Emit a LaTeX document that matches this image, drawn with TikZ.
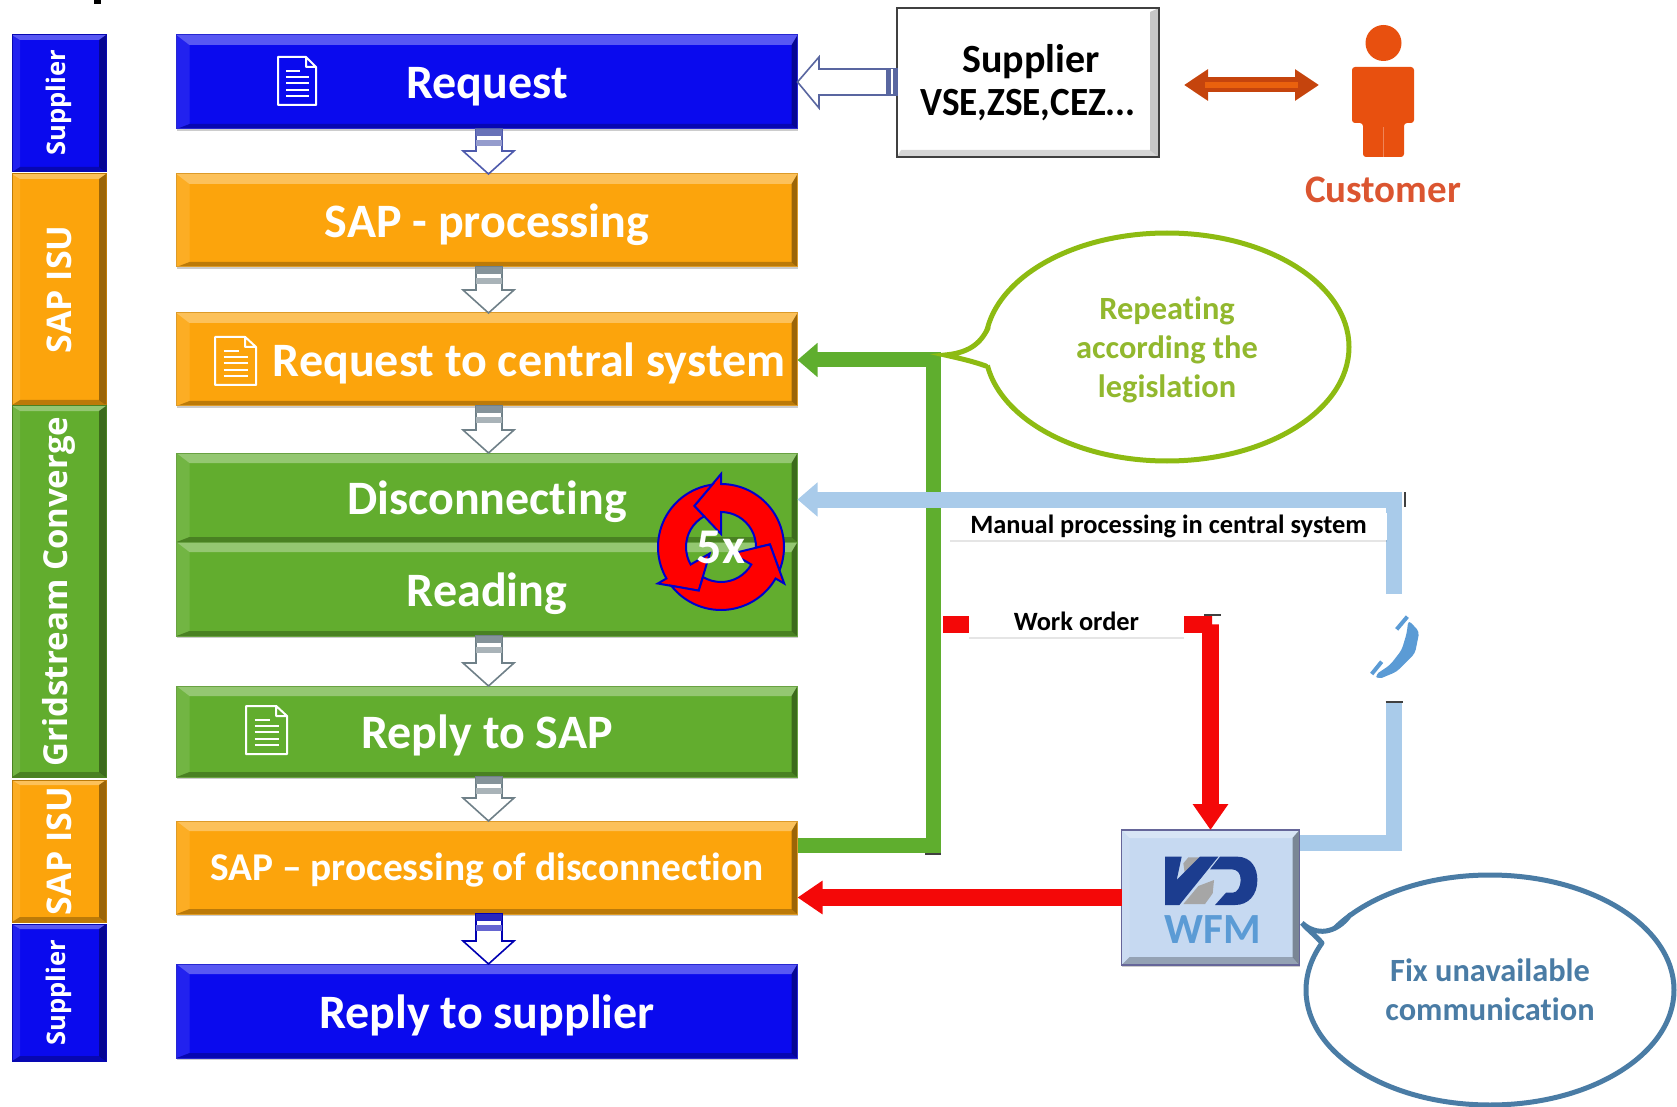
\documentclass[tikz,border=0pt]{standalone}
\usepackage{fontspec}
\usepackage{graphicx}
\setmainfont{Carlito}[Ligatures=NoCommon]
\newfontfamily\osans{Open Sans}
\usetikzlibrary{calc,arrows.meta,shapes.geometric,shadows}
\definecolor{cblue}{HTML}{0A0AEE}
\definecolor{corange}{HTML}{FCA40C}
\definecolor{cgreen}{HTML}{62AD2E}
\definecolor{lgreen}{HTML}{5FAE2E}
\definecolor{lblue}{HTML}{A9CBEA}
\definecolor{lred}{HTML}{F40808}
\definecolor{custc}{HTML}{E8500F}
\definecolor{custt}{HTML}{DB5530}
\definecolor{callg}{HTML}{8DBB12}
\definecolor{callgt}{HTML}{92B82E}
\definecolor{callb}{HTML}{4A7CA5}
\definecolor{wfmc}{HTML}{C6D9F1}
\definecolor{wfmt}{HTML}{5B9BD5}
\definecolor{logob}{HTML}{1C3D8F}
\definecolor{grarrow}{HTML}{6F8088}
\tikzset{
  bevel/.style n args={4}{path picture={
    \path (path picture bounding box.north west) coordinate (bnw)
          (path picture bounding box.north east) coordinate (bne)
          (path picture bounding box.south west) coordinate (bsw)
          (path picture bounding box.south east) coordinate (bse);
    \fill[white,opacity=.32] (bnw) -- (bne) -- ($(bne)+(-#2,#3)$) -- ($(bnw)+(#1,#3)$) -- cycle;
    \fill[white,opacity=.10] (bnw) -- (bsw) -- ($(bsw)+(#1,-#4)$) -- ($(bnw)+(#1,#3)$) -- cycle;
    \fill[black,opacity=.38] (bne) -- (bse) -- ($(bse)+(-#2,-#4)$) -- ($(bne)+(-#2,#3)$) -- cycle;
    \fill[black,opacity=.25] (bsw) -- (bse) -- ($(bse)+(-#2,-#4)$) -- ($(bsw)+(#1,-#4)$) -- cycle;
  }},
  softbevel/.style n args={4}{path picture={
    \path (path picture bounding box.north west) coordinate (bnw)
          (path picture bounding box.north east) coordinate (bne)
          (path picture bounding box.south west) coordinate (bsw)
          (path picture bounding box.south east) coordinate (bse);
    \fill[black,opacity=.22] (bne) -- (bse) -- ($(bse)+(-#2,-#4)$) -- ($(bne)+(-#2,#3)$) -- cycle;
    \fill[black,opacity=.16] (bsw) -- (bse) -- ($(bse)+(-#2,-#4)$) -- ($(bsw)+(#1,-#4)$) -- cycle;
  }},
  softshadow/.style={drop shadow={shadow xshift=0pt,shadow yshift=-1.2pt,opacity=.2,fill=black}},
  tagshadow/.style={drop shadow={shadow xshift=0pt,shadow yshift=-1pt,opacity=.1,fill=black}},
  mainbox/.style={rectangle,fill=#1,draw=#1!75!gray,line width=.5pt,anchor=north west,inner sep=0pt,outer sep=0pt,
    minimum width=310.5pt,text=white,softshadow,bevel={13}{6}{10}{5},text height=21pt,text depth=4pt,
    font=\bfseries\fontsize{24}{28}\selectfont},
  sidebox/.style={rectangle,fill=#1,draw=#1!75!black,line width=.5pt,anchor=north west,inner sep=0pt,outer sep=0pt,
    minimum width=47pt,text=white,bevel={8}{7}{5}{5}},
  flow/.style={line width=#1,line join=miter,line cap=butt},
  hollowarrow/.style={fill=white,line width=.8pt,line join=miter},
  tagbox/.style={rectangle,fill=white,inner sep=0pt,outer sep=0pt,tagshadow,text=black,font=\bfseries\fontsize{13.2}{15}\selectfont},
  capmark/.style={line width=1pt,draw=black!75},
  note/.style={ellipse,fill=white,line width=2.5pt,inner sep=0pt,outer sep=0pt,align=center,font=\bfseries\fontsize{16.2}{19.5}\selectfont},
  tailline/.style={line width=2.5pt,line cap=round},
}
\newcommand{\hollowdown}[3]{%
  \draw[hollowarrow,draw=#3] ($(#1.south)+(-11,0)$) -- ($(#2.north)+(-11,-23)$) -- ($(#2.north)+(-24,-23)$)
     -- ($(#2.north)+(1.5,0)$) -- ($(#2.north)+(27,-23)$) -- ($(#2.north)+(15,-23)$) -- ($(#1.south)+(15,0)$) -- cycle;
  \fill[#3!85] ($(#1.south)+(-11,0)$) rectangle ($(#1.south)+(15,7)$);
  \fill[#3!60] ($(#1.south)+(-11,11)$) rectangle ($(#1.south)+(15,17)$);
}
\newcommand{\docicon}[4]{%
  \begin{scope}[shift={(#1,#2)},xscale={#3/38},yscale={#4/48}]
    \draw[white,line width=1pt,line join=round] (0,0) -- (28,0) -- (38,10) -- (38,48) -- (0,48) -- cycle (28,0) -- (28,10) -- (38,10);
    \draw[white,line width=.8pt] (8,14) -- (22,14) (8,20) -- (31,20) (8,26) -- (31,26) (8,33) -- (31,33) (8,39) -- (31,39);
  \end{scope}
}
\begin{document}
\begin{tikzpicture}[x=.5pt,y=-.5pt]
\useasboundingbox (0,0) rectangle (1677,1107);
\fill[black] (94,0) rectangle (101,4);

% side bars
\node[sidebox=cblue,minimum height=68.5pt] (s1) at (12,35) {\rotatebox{90}{\raisebox{1pt}{\osans\bfseries\fontsize{12.8}{16}\selectfont\hspace*{.5pt}Supplier}}};
\node[sidebox=corange,minimum height=115.5pt] (s2) at (12,174) {\rotatebox{90}{\osans\bfseries\fontsize{17}{18}\selectfont SAP ISU}};
\node[sidebox=cgreen,minimum height=185.5pt] (s3) at (12,406) {\rotatebox{90}{\raisebox{1pt}{\osans\bfseries\fontsize{16.5}{18}\selectfont Gridstream Converge}}};
\node[sidebox=corange,minimum height=71pt] (s4) at (12,780) {\rotatebox{90}{\osans\bfseries\fontsize{17}{18}\selectfont SAP ISU}};
\node[sidebox=cblue,minimum height=68.5pt] (s5) at (12,924) {\rotatebox{90}{\raisebox{1pt}{\osans\bfseries\fontsize{12.8}{16}\selectfont Supplier}}};

% main column
\node[mainbox=cblue,minimum height=47pt] (req) at (176.5,35) {Request};
\node[mainbox=corange,minimum height=46.5pt] (sapp) at (176.5,174) {SAP - processing};
\node[mainbox=corange,minimum height=46.5pt] (rts) at (176.5,313) {\hspace*{42pt}Request to central system};
\node[mainbox=cgreen,minimum height=44.5pt] (disc) at (176.5,453) {Disconnecting};
\node[mainbox=cgreen,minimum height=47pt] (read) at (176.5,542) {Reading};
\node[mainbox=cgreen,minimum height=45.5pt] (rsap) at (176.5,686) {Reply to SAP};
\node[mainbox=corange,minimum height=46.5pt,text height=17pt,text depth=4pt,font=\bfseries\fontsize{19.7}{24}\selectfont] (sapd) at (176.5,821) {SAP -- processing of disconnection};
\node[mainbox=cblue,minimum height=47pt] (rsup) at (176.5,964) {Reply to supplier};

% document icons
\docicon{278}{57}{38}{48}
\docicon{215}{337}{41}{48}
\docicon{246}{706}{41}{48}

% supplier, customer
\node[rectangle,fill=white,draw=black!75,line width=.8pt,anchor=north west,inner sep=0pt,outer sep=0pt,
  minimum width=131pt,minimum height=74.5pt,align=center,softbevel={4}{9}{4}{7},
  font=\bfseries\fontsize{20}{21.5}\selectfont] (sup) at (897,8) {\hspace*{3pt}Supplier\\\scalebox{.93}[1]{VSE,ZSE,CEZ...}};
\node[rectangle,inner sep=0pt,outer sep=0pt,minimum width=31pt,minimum height=60pt] (person) at (1383,85) {};
\fill[custc] (1383.5,43) ellipse [x radius=18,y radius=18];
\fill[custc,rounded corners=1.5pt] (1352,123) -- (1352,67) -- (1414,67) -- (1414,123) -- (1404,123) -- (1404,157) -- (1363,157) -- (1363,123) -- cycle;
\draw[custc!70!white,line width=.5pt] (1383.5,127) -- (1383.5,157);
\node[text=custt,font=\bfseries\fontsize{19.5}{23}\selectfont] (customer) at (1383,190) {Customer};

% WFM
\node[rectangle,fill=wfmc,draw=gray!80!blue,line width=.8pt,anchor=north west,inner sep=0pt,outer sep=0pt,
  minimum width=89pt,minimum height=67.5pt,softshadow,bevel={8}{7}{8}{8}] (wfm) at (1121.5,830) {};
\begin{scope}[shift={(1120,830)},x=.1667pt,y=-.1667pt]
  \fill[gray!70] (190,100) -- (205,82) -- (248,82) -- (218,122) -- (195,135) -- cycle;
  \fill[gray!70] (218,222) -- (190,222) -- (235,168) -- (282,150) -- (278,190) -- (255,222) -- cycle;
  \fill[logob] (135,80) -- (185,80) -- (170,150) -- (240,80) -- (295,80) -- (178,225) -- (135,225) -- cycle;
  \fill[logob] (300,80) -- (350,80) .. controls (395,80) and (412,115) .. (412,150) .. controls (412,195) and (385,225) .. (345,225) -- (285,225) -- (318,188) -- (338,188) .. controls (352,188) and (362,170) .. (362,150) .. controls (362,130) and (352,118) .. (335,118) -- (270,118) -- cycle;
\end{scope}
\node[font=\fontsize{21.5}{24}\selectfont\bfseries,text=wfmt] (wfmt) at (1213,930) {WFM};

% down arrows
\hollowdown{req}{sapp}{blue!30!grarrow}
\hollowdown{sapp}{rts}{grarrow}
\hollowdown{rts}{disc}{grarrow}
\hollowdown{read}{rsap}{grarrow}
\hollowdown{rsap}{sapd}{grarrow}
\hollowdown{sapd}{rsup}{blue!70!black}

% hollow arrow supplier -> request
\draw[hollowarrow,draw=grarrow!80!blue] (sup.west |- 0,69) -- (819,69) -- (819,57) -- (req.east) -- (819,108) -- (819,95) -- (sup.west |- 0,95) -- cycle;
\fill[blue!20!grarrow] (886,69) rectangle (sup.west |- 0,95);
\fill[white] (891,69.5) rectangle (893,94.5);

% double arrow
\draw[flow=7.5pt,draw=custc!85!black,{Triangle[length=12pt,width=15pt]}-{Triangle[length=12pt,width=15pt]},shorten <=12.5pt,shorten >=16.5pt]
   (sup.east |- person.west) -- (person.west);
\draw[flow=3pt,draw=custc!90!yellow] (1205,85) -- (1298,85);

% green connector
\coordinate (gj) at (933,845);
\coordinate (gt) at (933,360);
\draw[flow=7.5pt,draw=lgreen,-{Triangle[length=10pt,width=16.5pt]}] (sapd.east |- gj) -- (gj) -- (gt) -- (rts.east |- gt);
\draw[capmark] (925,854) -- (941,854);

% red connectors
\node[inner sep=0pt,outer sep=0pt,minimum width=1pt,minimum height=1pt] (redstart) at (942,624) {};
\coordinate (rc) at (1212,624);
\draw[flow=8.5pt,draw=lred,-{Triangle[length=13pt,width=17pt]}] (redstart) -- (rc) -- (rc -| wfm.north) -- (wfm.north);
\draw[capmark] (1204,614.5) -- (1221,614.5);
\draw[flow=8.5pt,draw=lred,-{Triangle[length=12.5pt,width=16pt]}] (wfm.west) -- (sapd.east |- wfm.west);

% blue connector and phone
\node[rectangle,inner sep=0pt,outer sep=0pt,minimum width=20pt,minimum height=54pt] (phone) at (1394,648) {};
\coordinate (bj) at (1394,843);
\coordinate (bt) at (1394,499.5);
\draw[flow=8pt,draw=lblue] (wfm.east |- bj) -- (bj) -- (phone.south);
\draw[flow=8pt,draw=lblue,-{Triangle[length=10pt,width=16.5pt]}] (phone.north) -- (bt) -- (disc.east |- bt);
\draw[capmark] (1385.5,702) -- (1402.5,702);
\draw[capmark] (1404.5,492) -- (1404.5,507);
\begin{scope}[shift={(1350,600)},x=.1667pt,y=-.1667pt]
  \fill[wfmt,rounded corners=2pt] (175,60) -- (208,95) -- (195,160) -- (140,215) -- (85,238) -- (75,225) -- (120,195) -- (155,150) -- (170,100) -- cycle;
  \draw[wfmt,line width=2pt] (140,88) -- (172,50) (65,222) -- (95,185);
\end{scope}

% tags on connectors
\node[tagbox,minimum width=218.5pt,minimum height=13.5pt] (manual) at (1168.5,526.5) {Manual processing in central system};
\node[tagbox,minimum width=107.5pt,minimum height=16pt] (work) at (1076.5,621) {Work order};

% 5x ring
\foreach \r in {0,120,240}{
  \begin{scope}[shift={(721,547)},y=.5pt,rotate=\r]
    \draw[fill=red,draw=blue!80!black,line width=1pt,line join=miter]
      (-22:63) arc[start angle=-22,end angle=90,radius=63] -- (90:73) -- (123:49) -- (90:13) -- (90:35)
      arc[start angle=90,end angle=-1,radius=35] -- (3:49) -- cycle;
  \end{scope}
}
\node[text=white,font=\bfseries\fontsize{25}{28}\selectfont] (fivex) at (721,547) {5x};

% callouts
\node[note,draw=callg,text=callgt,minimum width=182pt,minimum height=114pt] (rep) at (1167,347) {\rule{0pt}{14.5pt}Repeating\\according the\\legislation};
\fill[white] (945,355) .. controls (967,353) and (980,345) .. (988,328) -- (997,335) -- (997,362) -- (986,366) .. controls (972,361) and (958,358) .. (945,355);
\draw[tailline,draw=callg] (988,328) .. controls (980,345) and (967,353) .. (945,355) .. controls (958,358) and (972,361) .. (986,366);
\node[note,draw=callb,text=callb,minimum width=184pt,minimum height=115pt] (fix) at (1490,990) {Fix unavailable\\communication};
\fill[white] (1302,923) .. controls (1316,936) and (1336,934) .. (1350,915) -- (1356,925) -- (1330,950) -- (1322,943) .. controls (1316,936) and (1308,930) .. (1302,923);
\draw[tailline,draw=callb] (1350,915) .. controls (1336,934) and (1316,936) .. (1302,923) .. controls (1308,930) and (1316,936) .. (1322,943);
\end{tikzpicture}
\end{document}
